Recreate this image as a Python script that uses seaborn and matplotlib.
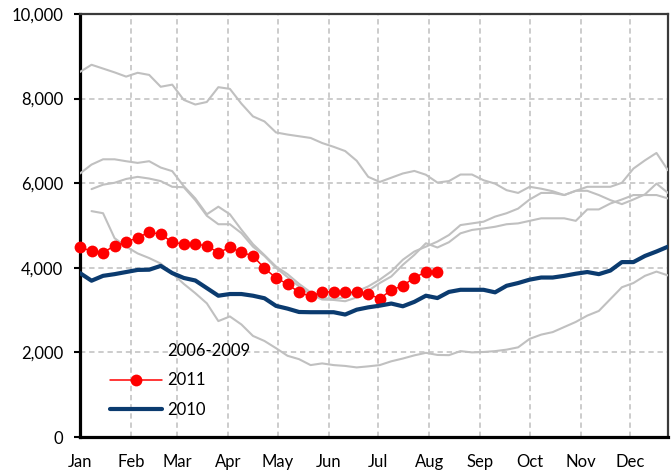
import numpy as np
import pandas as pd
import matplotlib
matplotlib.use("Agg")
import matplotlib.pyplot as plt
from matplotlib.lines import Line2D
import seaborn as sns

# Weekly values, week 0 = first week of January
weeks = list(range(52))

gray_2006 = [8630, 8800, 8710, 8620, 8520, 8610, 8560, 8280, 8330, 7970,
             7860, 7920, 8270, 8230, 7880, 7580, 7460, 7200, 7150, 7110,
             7070, 6950, 6860, 6760, 6530, 6150, 6030, 6130, 6230, 6290,
             6200, 6015, 6050, 6205, 6205, 6070, 5990, 5835, 5770, 5915,
             5870, 5810, 5720, 5820, 5915, 5915, 5915, 6010, 6345, 6540,
             6715, 6305]
gray_2007 = [6230, 6440, 6565, 6565, 6520, 6480, 6520, 6370, 6285, 5930,
             5640, 5265, 5445, 5265, 4900, 4560, 4300, 4030, 3850, 3620,
             3420, 3290, 3260, 3300, 3440, 3560, 3720, 3915, 4190, 4385,
             4500, 4620, 4775, 5010, 5050, 5090, 5210, 5290, 5400, 5615,
             5770, 5770, 5720, 5820, 5820, 5720, 5600, 5505, 5615, 5735,
             5990, 5770]
gray_2008 = [np.nan, 5860, 5965, 6010, 6100, 6150, 6110, 6050, 5915, 5905,
             5600, 5230, 5030, 5030, 4820, 4500, 4280, 4000, 3780, 3560,
             3370, 3250, 3240, 3210, 3300, 3460, 3640, 3795, 4070, 4305,
             4580, 4480, 4605, 4815, 4895, 4930, 4970, 5030, 5050, 5110,
             5170, 5170, 5170, 5110, 5380, 5380, 5520, 5615, 5720, 5720,
             5720, 5640]
gray_2009 = [np.nan, 5340, 5290, 4700, 4500, 4340, 4230, 4100, 3870, 3620,
             3400, 3160, 2740, 2850, 2660, 2390, 2270, 2100, 1920, 1840,
             1700, 1740, 1700, 1680, 1645, 1670, 1700, 1790, 1855, 1930,
             1990, 1940, 1935, 2030, 2000, 2010, 2030, 2065, 2120, 2320,
             2420, 2480, 2600, 2720, 2870, 2980, 3260, 3540, 3640, 3810,
             3910, 3820]
series_2010 = [3875, 3695, 3810, 3850, 3900, 3950, 3955, 4045, 3875, 3760,
               3700, 3520, 3340, 3380, 3380, 3340, 3280, 3100, 3035, 2955,
               2950, 2950, 2950, 2895, 3010, 3065, 3105, 3155, 3090, 3195,
               3340, 3285, 3430, 3480, 3480, 3480, 3420, 3575, 3640, 3720,
               3770, 3770, 3810, 3860, 3900, 3850, 3935, 4135, 4135, 4280,
               4385, 4500]
series_2011 = [4480, 4400, 4360, 4520, 4605, 4715, 4840, 4795, 4605, 4560,
               4560, 4520, 4360, 4480, 4370, 4280, 3990, 3760, 3615, 3420,
               3325, 3430, 3430, 3420, 3420, 3380, 3270, 3475, 3575, 3770,
               3900, 3900]

months = ["Jan", "Feb", "Mar", "Apr", "May", "Jun",
          "Jul", "Aug", "Sep", "Oct", "Nov", "Dec"]
month_start_day = [0, 31, 59, 90, 120, 151, 181, 212, 243, 273, 304, 334]
y_ticks = [0, 2000, 4000, 6000, 8000, 10000]

GRAY = "#c0c0c0"
RED = "#ff0000"
NAVY = "#0b3b6f"
FS = 12

sns.set_theme(style="white")
plt.rcParams["font.family"] = ["Lato", "DejaVu Sans"]

gray_df = pd.concat([
    pd.DataFrame({"week": weeks, "value": vals, "year": yr})
    for yr, vals in [("2006", gray_2006), ("2007", gray_2007),
                     ("2008", gray_2008), ("2009", gray_2009)]
]).dropna()
df_2010 = pd.DataFrame({"week": weeks, "value": series_2010})
df_2011 = pd.DataFrame({"week": weeks[:len(series_2011)], "value": series_2011})

fig = plt.figure(figsize=(6.71, 4.74), dpi=100)
ax = fig.add_axes([80 / 671, 1 - 437 / 474, 588 / 671, 423 / 474])

sns.lineplot(data=gray_df, x="week", y="value", units="year", estimator=None,
             color=GRAY, linewidth=1.5, ax=ax, legend=False, zorder=3)
sns.lineplot(data=df_2011, x="week", y="value", color=RED, linewidth=1.1,
             marker="o", markersize=8.5, markeredgewidth=0, ax=ax,
             legend=False, zorder=4, clip_on=False)
sns.lineplot(data=df_2010, x="week", y="value", color=NAVY, linewidth=3.0,
             ax=ax, legend=False, zorder=5)

ax.set_xlim(0, 51)
ax.set_ylim(0, 10000)
ax.set_xticks([d / 7 for d in month_start_day])
ax.set_xticklabels(months)
ax.set_yticks(y_ticks)
ax.set_yticklabels([f"{v:,}" for v in y_ticks])
ax.set_xlabel("")
ax.set_ylabel("")

ax.grid(True, which="major", axis="both", color="#bfbfbf",
        linestyle=(0, (3.5, 2.5)), linewidth=1.1, zorder=0)
ax.set_axisbelow(True)

ax.tick_params(axis="x", length=0, pad=12, labelsize=FS, colors="black")
ax.tick_params(axis="y", length=4, width=1.5, pad=8, labelsize=FS,
               colors="black", left=True)

for side in ("left", "bottom"):
    ax.spines[side].set_color("black")
    ax.spines[side].set_linewidth(2.3)
for side in ("top", "right"):
    ax.spines[side].set_color("#3a3a3a")
    ax.spines[side].set_linewidth(1.6)
    ax.spines[side].set_visible(True)

handles = [
    Line2D([], [], color=GRAY, linestyle="none"),
    Line2D([], [], color=RED, linewidth=1.1, marker="o", markersize=8.5,
           markeredgewidth=0),
    Line2D([], [], color=NAVY, linewidth=3.0),
]
leg = ax.legend(handles, ["2006-2009", "2011", "2010"],
                loc="upper left", bbox_to_anchor=(0.051, 0.222),
                frameon=False, fontsize=FS, handlelength=3.1,
                handletextpad=0.36, labelspacing=0.8, borderaxespad=0,
                borderpad=0)
for t in leg.get_texts():
    t.set_color("black")

fig.savefig("out.png", dpi=100)
